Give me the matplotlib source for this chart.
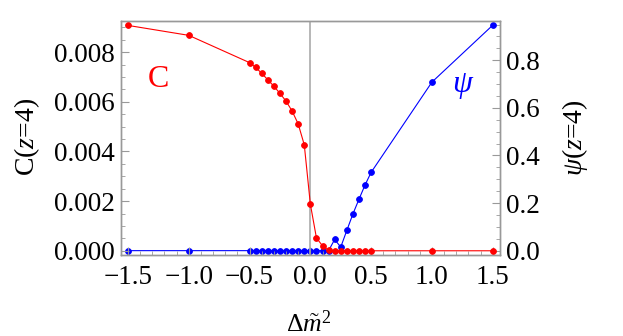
import numpy as np
import matplotlib
matplotlib.use("Agg")
import matplotlib.pyplot as plt
from matplotlib.ticker import MultipleLocator

# data
dm2 = [-1.5, -1.0, -0.5, -0.45, -0.4, -0.35, -0.3, -0.25, -0.2, -0.15, -0.1, -0.05,
       0.0, 0.05, 0.1, 0.15, 0.2, 0.25, 0.3, 0.35, 0.4, 0.45, 0.5, 1.0, 1.5]
C_vals = [0.00908, 0.00868, 0.00758, 0.00739, 0.00715, 0.00689, 0.00663, 0.00634,
          0.00603, 0.00563, 0.00511, 0.00427, 0.00188, 0.00052, 0.0002, 0.00002,
          0.0, 0.0, 0.0, 0.0, 0.0, 0.0, 0.0, 0.0, 0.0]
psi_vals = [0.0, 0.0, 0.0, 0.0, 0.0, 0.0, 0.0, 0.0, 0.0, 0.0, 0.0, 0.0,
            0.0, 0.0, 0.0, 0.0, 0.047, 0.015, 0.085, 0.154, 0.216, 0.276, 0.329,
            0.708, 0.947]
c_ticks = [0.000, 0.002, 0.004, 0.006, 0.008]
psi_ticks = [0.0, 0.2, 0.4, 0.6, 0.8]
x_ticks = [-1.5, -1.0, -0.5, 0.0, 0.5, 1.0, 1.5]

plt.rcParams['font.family'] = ['Liberation Serif', 'DejaVu Serif']
plt.rcParams['mathtext.fontset'] = 'custom'
plt.rcParams['mathtext.rm'] = 'Liberation Serif'
plt.rcParams['mathtext.it'] = 'Liberation Serif:italic'

frame_col = '#999999'

fig = plt.figure(figsize=(6.23, 3.36), dpi=100)
ax = fig.add_axes([0.1937, 0.2402, 0.6089, 0.6982])
ax2 = ax.twinx()
ax.set_zorder(ax2.get_zorder() + 1)
ax.patch.set_visible(False)

ax.axvline(0, color='#aaaaaa', lw=1.2, zorder=0)

ax2.plot(dm2, psi_vals, '-o', color='blue', lw=0.8, ms=4.2, mew=0.6, clip_on=False)
ax.plot(dm2, C_vals, '-o', color='red', lw=0.8, ms=4.2, mew=0.6, clip_on=False)

ax.set_xlim(-1.56, 1.56)
ax.set_ylim(-0.000182, 0.00927)
ax2.set_ylim(-0.0195, 0.966)

ax.set_xticks(x_ticks)
ax.set_xticklabels([f"{v:.1f}".replace('-', '\u2212') for v in x_ticks])
ax.xaxis.set_minor_locator(MultipleLocator(0.1))
ax.set_yticks(c_ticks)
ax.set_yticklabels([f"{v:.3f}" for v in c_ticks])
ax.yaxis.set_minor_locator(MultipleLocator(0.0005))
ax2.set_yticks(psi_ticks)
ax2.set_yticklabels([f"{v:.1f}" for v in psi_ticks])
ax2.yaxis.set_minor_locator(MultipleLocator(0.05))

for a in (ax, ax2):
    for s in a.spines.values():
        s.set_color(frame_col)
        s.set_linewidth(1.0)
    a.tick_params(which='both', direction='in', color=frame_col, labelsize=19.5)
    a.tick_params(which='major', length=6, width=0.8)
    a.tick_params(which='minor', length=3, width=0.6)

ax.tick_params(axis='x', which='both', top=False, pad=7)
ax.tick_params(axis='y', which='both', right=False, pad=4)
ax2.tick_params(axis='y', which='both', left=False, pad=4)

# axis labels placed in figure pixels as measured on the reference
W, H = 623, 336
fig.text(309 / W, 1 - 332 / H, r'$\Delta\tilde{m}^2$', fontsize=18.5,
         ha='center', va='baseline')
fig.text(27 / W, 1 - 137 / H, r'C($z$=4)', fontsize=20, rotation=90,
         ha='center', va='center')
fig.text(575 / W, 1 - 138 / H, r'$\psi$($z$=4)', fontsize=20, rotation=90,
         ha='center', va='center')

ax.text(-1.25, 0.0069, 'C', color='red', fontsize=23, ha='center', va='center')
ax.text(1.26, 0.00664, r'$\psi$', color='blue', fontsize=23, ha='center', va='center')

fig.savefig('out.png', dpi=100)
